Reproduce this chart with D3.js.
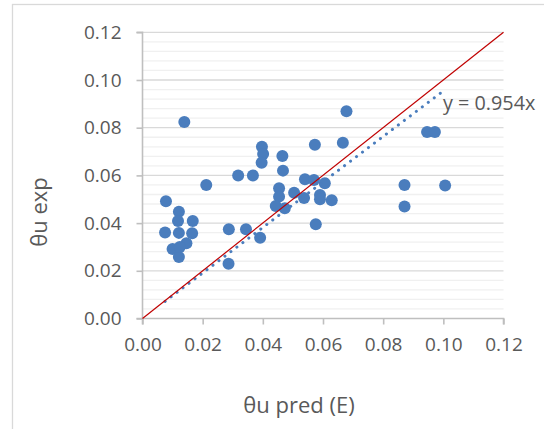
<!DOCTYPE html>
<html>
<head>
<meta charset="utf-8">
<script src="https://cdn.jsdelivr.net/npm/d3@7"></script>
<style>
  html, body { margin: 0; padding: 0; background: #fff; }
  svg { display: block; }
  text { font-family: "Open Sans", "Noto Sans", sans-serif; fill: #595959; }
</style>
</head>
<body>
<script>
// Predicted vs. experimental θu
const predX = [
  0.0139, 0.0397, 0.0401, 0.0396, 0.0465, 0.0467, 0.0573, 0.0318, 0.0367, 0.0678,
  0.0666, 0.0946, 0.0972, 0.0078, 0.0121, 0.0118, 0.0167, 0.0075, 0.0121, 0.0165,
  0.0146, 0.0100, 0.0121, 0.0124, 0.0212, 0.0287, 0.0286, 0.0344, 0.0391, 0.0454,
  0.0454, 0.0443, 0.0473, 0.0504, 0.0540, 0.0537, 0.0570, 0.0606, 0.0590, 0.0590,
  0.0629, 0.0576, 0.0871, 0.0871, 0.1006
];
const expY = [
  0.0824, 0.0720, 0.0690, 0.0653, 0.0681, 0.0620, 0.0729, 0.0600, 0.0600, 0.0869,
  0.0737, 0.0782, 0.0782, 0.0492, 0.0448, 0.0409, 0.0409, 0.0361, 0.0359, 0.0357,
  0.0316, 0.0291, 0.0258, 0.0300, 0.0560, 0.0374, 0.0230, 0.0374, 0.0339, 0.0546,
  0.0511, 0.0472, 0.0462, 0.0527, 0.0584, 0.0505, 0.0581, 0.0567, 0.0518, 0.0500,
  0.0496, 0.0395, 0.0560, 0.0470, 0.0558
];
const trendSlope = 0.954;
const xTicks = [0, 0.02, 0.04, 0.06, 0.08, 0.10, 0.12];
const yTicks = [0, 0.02, 0.04, 0.06, 0.08, 0.10, 0.12];
const xTitle = "θu pred (E)";
const yTitle = "θu exp";

const W = 544, H = 429;
const plot = { left: 142.5, right: 503.5, top: 32.3, bottom: 318.5 };

const svg = d3.select("body").append("svg").attr("width", W).attr("height", H);

// chart frame
svg.append("rect")
  .attr("x", 12.5).attr("y", 4.5)
  .attr("width", W + 20).attr("height", H + 20)
  .attr("fill", "#fff").attr("stroke", "#d9d9d9").attr("stroke-width", 1.3);

const x = d3.scaleLinear().domain([0, 0.12]).range([plot.left, plot.right]);
const y = d3.scaleLinear().domain([0, 0.12]).range([plot.bottom, plot.top]);

// minor gridlines every 0.004
const minor = d3.range(0, 0.1201, 0.004).filter((v, i) => i % 5 !== 0);
svg.append("g").selectAll("line").data(minor).join("line")
  .attr("x1", plot.left).attr("x2", plot.right)
  .attr("y1", d => y(d)).attr("y2", d => y(d))
  .attr("stroke", "#f0f0f0").attr("stroke-width", 1.3);

// major gridlines
svg.append("g").selectAll("line").data(yTicks.slice(1)).join("line")
  .attr("x1", plot.left).attr("x2", plot.right)
  .attr("y1", d => y(d)).attr("y2", d => y(d))
  .attr("stroke", "#d9d9d9").attr("stroke-width", 1.3);

// axes
const fmt = d3.format(".2f");
const xAxis = svg.append("g")
  .attr("transform", `translate(0,${plot.bottom})`)
  .call(d3.axisBottom(x).tickValues(xTicks).tickFormat(fmt).tickSize(6).tickPadding(13));
const yAxis = svg.append("g")
  .attr("transform", `translate(${plot.left},0)`)
  .call(d3.axisLeft(y).tickValues(yTicks).tickFormat(fmt).tickSize(6).tickPadding(15));
[xAxis, yAxis].forEach(g => {
  g.select(".domain").attr("stroke", "#bfbfbf").attr("stroke-width", 1.6);
  g.selectAll(".tick line").attr("stroke", "#bfbfbf").attr("stroke-width", 1.6);
  g.selectAll(".tick text").style("font-size", "19px").attr("fill", "#595959")
    .style("font-family", "'Open Sans', sans-serif");
});
yAxis.select(".domain").attr("d", `M-6,${plot.top}H0V${plot.bottom}H-6`);
xAxis.select(".domain").attr("d", `M${plot.left},6V0H${plot.right}V6`);

// data points
svg.append("g").selectAll("circle").data(predX.map((v, i) => [v, expY[i]])).join("circle")
  .attr("cx", d => x(d[0])).attr("cy", d => y(d[1])).attr("r", 6)
  .attr("fill", "#4a7dbd");

// linear trendline through origin over the data range
const xExt = d3.extent(predX);
svg.append("line")
  .attr("x1", x(xExt[0])).attr("y1", y(trendSlope * xExt[0]))
  .attr("x2", x(xExt[1])).attr("y2", y(trendSlope * xExt[1]))
  .attr("stroke", "#4a7dbd").attr("stroke-width", 3)
  .attr("stroke-linecap", "round").attr("stroke-dasharray", "0.1 7.4");

// y = x reference line
svg.append("line")
  .attr("x1", x(0)).attr("y1", y(0))
  .attr("x2", x(0.12)).attr("y2", y(0.12))
  .attr("stroke", "#c00000").attr("stroke-width", 1.2);

// trendline equation
svg.append("text")
  .attr("x", 443).attr("y", 110)
  .style("font-size", "19.8px")
  .text(`y = ${trendSlope}x`);

// axis titles
svg.append("text")
  .attr("x", 299).attr("y", 413)
  .attr("text-anchor", "middle")
  .style("font-size", "22px")
  .text(xTitle);
svg.append("text")
  .attr("transform", "translate(47,212) rotate(-90)")
  .attr("text-anchor", "middle")
  .style("font-size", "22px")
  .text(yTitle);
</script>
</body>
</html>
